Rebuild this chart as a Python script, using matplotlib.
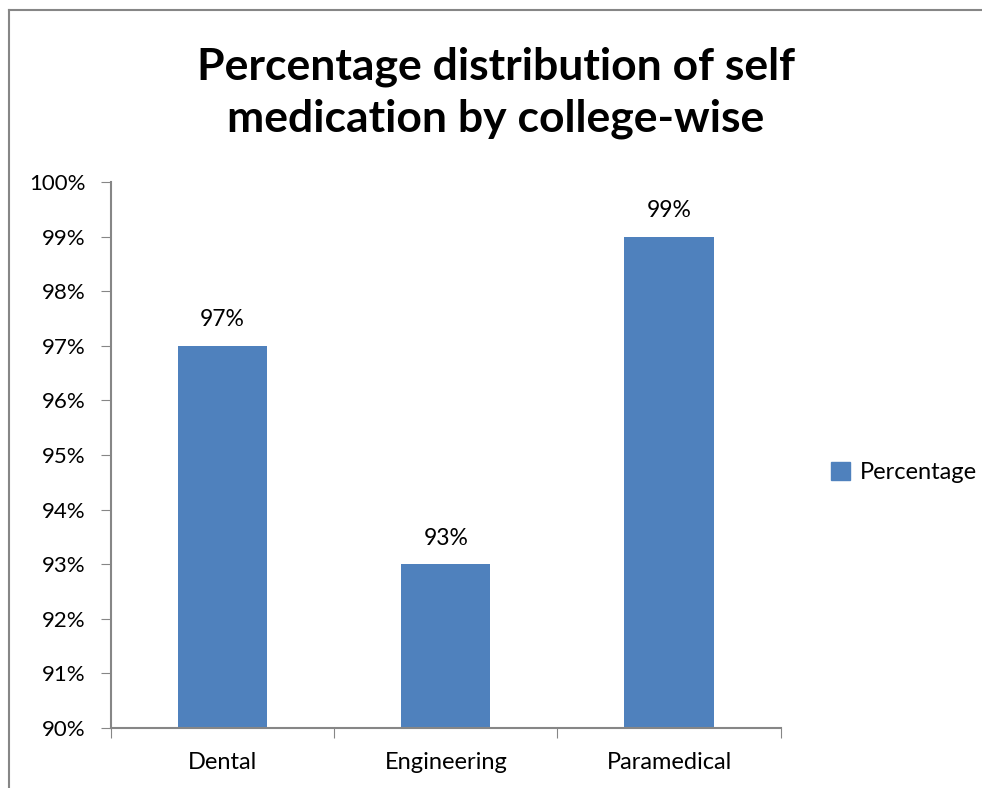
import matplotlib.pyplot as plt
from matplotlib.lines import Line2D
from matplotlib.patches import Patch
import numpy as np

colleges = ['Dental', 'Engineering', 'Paramedical']
percentage = [97, 93, 99]
yticks = list(range(90, 101))

bar_color = '#4F81BD'
axis_color = '#868686'
plt.rcParams['font.family'] = ['Lato', 'DejaVu Sans']

fig = plt.figure(figsize=(9.82, 7.88), dpi=100)
ax = fig.add_axes([0.113, 0.0761, 0.682, 0.693])

x = np.arange(len(colleges))
bars = ax.bar(x, percentage, width=0.4, color=bar_color, zorder=2)

for xi, v in zip(x, percentage):
    ax.annotate(f'{v}%', (xi, v), xytext=(0, 11), textcoords='offset points',
                ha='center', va='bottom', fontsize=16.5)

ax.set_ylim(90, 100)
ax.set_yticks(yticks)
ax.set_yticklabels([f'{t}%' for t in yticks], fontsize=16)
ax.set_xlim(-0.5, len(colleges) - 0.5)
ax.set_xticks(np.arange(-0.5, len(colleges)))
ax.set_xticklabels([])
ax.set_xticks(x, minor=True)
ax.set_xticklabels(colleges, minor=True, fontsize=17)
ax.tick_params(axis='x', which='minor', length=0, pad=17)
ax.tick_params(axis='x', which='major', length=7, direction='out', color=axis_color)
ax.tick_params(axis='y', length=7, direction='out', color=axis_color, pad=11)

for s in ['top', 'right']:
    ax.spines[s].set_visible(False)
for s in ['left', 'bottom']:
    ax.spines[s].set_color(axis_color)
    ax.spines[s].set_linewidth(1.5)

fig.text(0.505, 0.882, 'Percentage distribution of self\nmedication by college-wise',
         ha='center', va='center', fontsize=32, fontweight='bold', linespacing=1.35)

fig.legend(handles=[Patch(color=bar_color, label='Percentage')],
           loc='center left', bbox_to_anchor=(0.825, 0.4), frameon=False,
           fontsize=17, handlelength=0.8, handleheight=0.8, handletextpad=0.4)

# outer chart border (only top and left visible in the crop)
fig.add_artist(Line2D([9 / 982, 9 / 982], [0, 1 - 10 / 788], color=axis_color, lw=1.5))
fig.add_artist(Line2D([9 / 982, 1], [1 - 10 / 788, 1 - 10 / 788], color=axis_color, lw=1.5))

fig.savefig('out.png', dpi=100)
